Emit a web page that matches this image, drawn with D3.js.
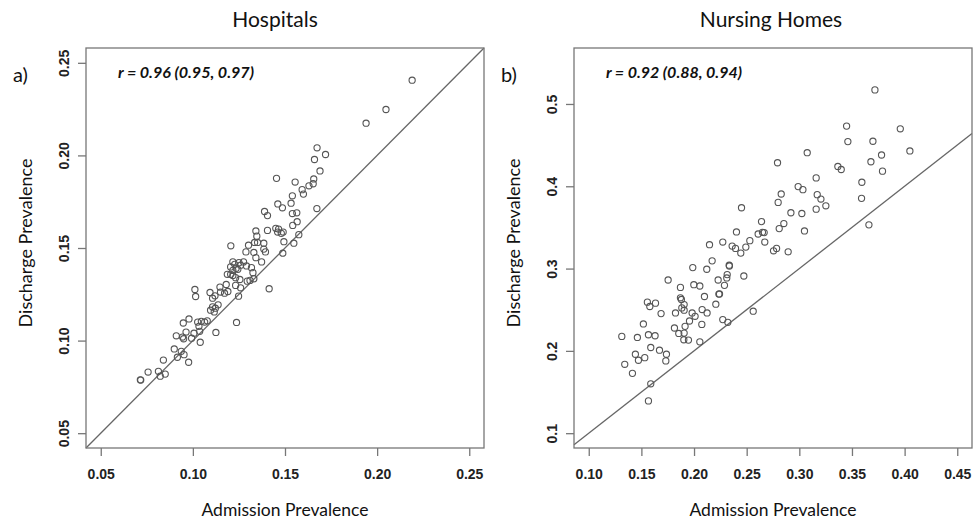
<!DOCTYPE html>
<html>
<head>
<meta charset="utf-8">
<script src="https://cdn.jsdelivr.net/npm/d3@7"></script>
<style>
  body { margin: 0; background: #fff; }
  svg { display: block; }
</style>
</head>
<body>
<script>
const width = 975;
const height = 527;

// panel a) hospitals
const hospAdmission = [
  0.219, 0.2048, 0.194, 0.1674, 0.172, 0.166, 0.169, 0.1454, 0.1555, 0.1656,
  0.1653, 0.163, 0.1593, 0.160, 0.154, 0.1533, 0.1461, 0.1486, 0.1673, 0.1389,
  0.1405, 0.154, 0.1564, 0.1542, 0.1566, 0.1342, 0.1405, 0.145, 0.1465, 0.146,
  0.149, 0.148, 0.1575, 0.1347, 0.1206, 0.1302, 0.1335, 0.1351, 0.1385, 0.1494,
  0.1548, 0.1288, 0.1331, 0.1385, 0.1394, 0.1488, 0.1342, 0.1373, 0.1217, 0.1227,
  0.125, 0.1259, 0.1275, 0.1205, 0.1235, 0.1217, 0.1244, 0.1291, 0.1318, 0.1187,
  0.1205, 0.1217, 0.1232, 0.1326, 0.1295, 0.131, 0.1255, 0.1331, 0.1181, 0.1232,
  0.1259, 0.1147, 0.1414, 0.1190, 0.1172, 0.1011, 0.1015, 0.1093, 0.112, 0.1150,
  0.1107, 0.1248, 0.1137, 0.1107, 0.1122, 0.1096, 0.1116, 0.0979, 0.0948, 0.1026,
  0.1046, 0.1064, 0.1078, 0.1237, 0.1033, 0.0963, 0.1006, 0.1037, 0.1125, 0.091,
  0.0944, 0.095, 0.0993, 0.104, 0.0899, 0.0937, 0.0952, 0.0916, 0.0977, 0.084,
  0.0757, 0.0813, 0.0823, 0.085, 0.0715, 0.0717
];
const hospDischarge = [
  0.2406, 0.2248, 0.2174, 0.2041, 0.2005, 0.1978, 0.1916, 0.1876, 0.1856, 0.1873,
  0.1847, 0.1836, 0.1815, 0.1791, 0.1782, 0.1742, 0.1738, 0.1717, 0.1713, 0.1697,
  0.1675, 0.1686, 0.1690, 0.1622, 0.1642, 0.1592, 0.1595, 0.1606, 0.1602, 0.1586,
  0.1586, 0.1579, 0.1572, 0.1564, 0.1512, 0.1515, 0.153, 0.153, 0.1526, 0.1534,
  0.1526, 0.1479, 0.1476, 0.1494, 0.1479, 0.1472, 0.1448, 0.1425, 0.1425, 0.1412,
  0.1421, 0.1407, 0.1425, 0.1398, 0.139, 0.1379, 0.1385, 0.1403, 0.1394, 0.1358,
  0.1358, 0.1352, 0.1340, 0.1367, 0.1321, 0.1325, 0.133, 0.1334, 0.1303, 0.1298,
  0.1285, 0.1289, 0.128, 0.1265, 0.1256, 0.1276, 0.1238, 0.126, 0.1242, 0.1262,
  0.1229, 0.1240, 0.1193, 0.1182, 0.1175, 0.1164, 0.1155, 0.1117, 0.1095, 0.11,
  0.1104, 0.11, 0.1107, 0.1098, 0.1077, 0.1046, 0.104, 0.105, 0.1044, 0.1026,
  0.1019, 0.101, 0.1013, 0.0991, 0.0955, 0.0942, 0.0924, 0.091, 0.0883, 0.0895,
  0.083, 0.0834, 0.0808, 0.0819, 0.0788, 0.0787
];

// panel b) nursing homes
const nursAdmission = [
  0.3718, 0.3449, 0.3959, 0.3461, 0.3699, 0.3075, 0.405, 0.2793, 0.3781, 0.368,
  0.3366, 0.3398, 0.379, 0.316, 0.3594, 0.2989, 0.3034, 0.2828, 0.317, 0.3205,
  0.3591, 0.2799, 0.316, 0.3252, 0.2451, 0.292, 0.3024, 0.2809, 0.2853, 0.3049,
  0.2641, 0.2403, 0.265, 0.2609, 0.2666, 0.3661, 0.253, 0.2672, 0.2273, 0.2147,
  0.2362, 0.2394, 0.2492, 0.2444, 0.2755, 0.2784, 0.2894, 0.2172, 0.2334, 0.2336,
  0.1988, 0.2121, 0.2473, 0.2315, 0.2311, 0.2229, 0.1754, 0.2289, 0.1998, 0.2055,
  0.1871, 0.2236, 0.2242, 0.2099, 0.1871, 0.188, 0.1557, 0.1634, 0.158, 0.2207,
  0.1906, 0.1884, 0.1906, 0.2077, 0.2124, 0.1824, 0.1687, 0.1982, 0.2010, 0.2562,
  0.2273, 0.2321, 0.1957, 0.1519, 0.2074, 0.1915, 0.1814, 0.1855, 0.1906, 0.1567,
  0.163, 0.1314, 0.1462, 0.1903, 0.1947, 0.2055, 0.1589, 0.1672, 0.1443, 0.1738,
  0.1532, 0.1472, 0.1732, 0.1342, 0.1415, 0.1589, 0.1567
];
const nursDischarge = [
  0.5171, 0.4731, 0.4698, 0.4543, 0.4547, 0.4408, 0.4429, 0.4286, 0.438, 0.4298,
  0.4241, 0.4204, 0.4184, 0.4102, 0.4049, 0.3996, 0.3959, 0.3906, 0.3898, 0.3845,
  0.3853, 0.3804, 0.3722, 0.3763, 0.3739, 0.3678, 0.3669, 0.3486, 0.3547, 0.3457,
  0.3571, 0.3445, 0.3441, 0.342, 0.3437, 0.3531, 0.3339, 0.3322, 0.3322, 0.329,
  0.3273, 0.3245, 0.3261, 0.3188, 0.3216, 0.3245, 0.3204, 0.3094, 0.3041, 0.3031,
  0.3012, 0.2992, 0.291, 0.2927, 0.2886, 0.2861, 0.2861, 0.2796, 0.2804, 0.2788,
  0.2771, 0.2690, 0.2692, 0.2661, 0.2645, 0.2624, 0.2592, 0.258, 0.2539, 0.2567,
  0.2563, 0.2522, 0.2494, 0.2502, 0.2461, 0.2461, 0.2453, 0.2461, 0.242, 0.2482,
  0.238, 0.2347, 0.2363, 0.2327, 0.2322, 0.2298, 0.2278, 0.2212, 0.2216, 0.2196,
  0.2184, 0.2176, 0.2163, 0.2135, 0.2131, 0.211, 0.2041, 0.2008, 0.1959, 0.1959,
  0.1918, 0.1886, 0.1878, 0.1837, 0.1727, 0.16, 0.1392
];

const hospTicks = [0.05, 0.10, 0.15, 0.20, 0.25];
const nursXTicks = [0.10, 0.15, 0.20, 0.25, 0.30, 0.35, 0.40, 0.45];
const nursYTicks = [0.1, 0.2, 0.3, 0.4, 0.5];

const panels = [
  {
    left: 86, right: 484, title: 'Hospitals', titleX: 275, tag: 'a)',
    r: 'r = 0.96 (0.95, 0.97)',
    xs: hospAdmission, ys: hospDischarge,
    xDomain: [0.042, 0.258], yDomain: [0.042, 0.258],
    xTicks: hospTicks, yTicks: hospTicks,
    xFmt: d3.format('.2f'), yFmt: d3.format('.2f')
  },
  {
    left: 574, right: 972, title: 'Nursing Homes', titleX: 771, tag: 'b)',
    r: 'r = 0.92 (0.88, 0.94)',
    xs: nursAdmission, ys: nursDischarge,
    xDomain: [0.086, 0.464], yDomain: [0.082, 0.568],
    xTicks: nursXTicks, yTicks: nursYTicks,
    xFmt: d3.format('.2f'), yFmt: d3.format('.1f')
  }
];

const plotTop = 48;
const plotBottom = 448;
const labelFont = 'Lato';

const svg = d3.select('body')
  .append('svg')
  .attr('width', width)
  .attr('height', height);

panels.forEach(function (p) {
  const x = d3.scaleLinear().domain(p.xDomain).range([p.left, p.right]);
  const y = d3.scaleLinear().domain(p.yDomain).range([plotBottom, plotTop]);
  const g = svg.append('g');

  // title and panel tag
  g.append('text')
    .attr('x', p.titleX)
    .attr('y', 27)
    .attr('text-anchor', 'middle')
    .attr('font-family', labelFont)
    .attr('font-size', '21px')
    .attr('fill', '#111')
    .text(p.title);

  g.append('text')
    .attr('x', p.left - 73)
    .attr('y', 82)
    .attr('font-family', labelFont)
    .attr('font-size', '20px')
    .attr('fill', '#111')
    .text(p.tag);

  // y = x reference line, clipped to the box
  const lo = Math.max(p.xDomain[0], p.yDomain[0]);
  const hi = Math.min(p.xDomain[1], p.yDomain[1]);
  g.append('line')
    .attr('x1', x(lo)).attr('y1', y(lo))
    .attr('x2', x(hi)).attr('y2', y(hi))
    .attr('stroke', '#666')
    .attr('stroke-width', 1.3);

  g.selectAll('circle')
    .data(p.xs)
    .enter()
    .append('circle')
    .attr('cx', function (d) { return x(d); })
    .attr('cy', function (d, i) { return y(p.ys[i]); })
    .attr('r', 3.1)
    .attr('fill', 'none')
    .attr('stroke', '#555')
    .attr('stroke-width', 1.1);

  g.append('rect')
    .attr('x', p.left)
    .attr('y', plotTop)
    .attr('width', p.right - p.left)
    .attr('height', plotBottom - plotTop)
    .attr('fill', 'none')
    .attr('stroke', '#777')
    .attr('stroke-width', 1.3);

  const xAxis = d3.axisBottom(x)
    .tickValues(p.xTicks)
    .tickFormat(p.xFmt)
    .tickSize(8)
    .tickPadding(13);

  const gx = g.append('g')
    .attr('transform', `translate(0, ${plotBottom})`)
    .call(xAxis);

  const yAxis = d3.axisLeft(y)
    .tickValues(p.yTicks)
    .tickFormat(p.yFmt)
    .tickSize(8);

  const gy = g.append('g')
    .attr('transform', `translate(${p.left}, 0)`)
    .call(yAxis);

  [gx, gy].forEach(function (a) {
    a.select('.domain').remove();
    a.selectAll('.tick line').attr('stroke', '#777').attr('stroke-width', 1.3);
    a.selectAll('.tick text')
      .attr('font-family', 'Liberation Sans')
      .attr('font-weight', 'bold')
      .attr('font-size', '14px')
      .attr('fill', '#222');
  });

  gy.selectAll('.tick text')
    .attr('transform', 'rotate(-90)')
    .attr('x', 0)
    .attr('y', -17)
    .attr('dy', 0)
    .attr('text-anchor', 'middle');

  // r annotation
  g.append('text')
    .attr('x', p.left + 32)
    .attr('y', 78)
    .attr('font-family', labelFont)
    .attr('font-weight', 'bold')
    .attr('font-style', 'italic')
    .attr('font-size', '16px')
    .attr('textLength', 136)
    .attr('lengthAdjust', 'spacingAndGlyphs')
    .attr('fill', '#111')
    .text(p.r);

  // axis titles
  g.append('text')
    .attr('x', (p.left + p.right) / 2)
    .attr('y', 516)
    .attr('text-anchor', 'middle')
    .attr('font-family', labelFont)
    .attr('font-size', '17.5px')
    .attr('fill', '#111')
    .text('Admission Prevalence');

  g.append('text')
    .attr('transform', `translate(${p.left - 54}, ${(plotTop + plotBottom) / 2 - 5}) rotate(-90)`)
    .attr('text-anchor', 'middle')
    .attr('font-family', labelFont)
    .attr('font-size', '18px')
    .attr('fill', '#111')
    .text('Discharge Prevalence');
});
</script>
</body>
</html>
